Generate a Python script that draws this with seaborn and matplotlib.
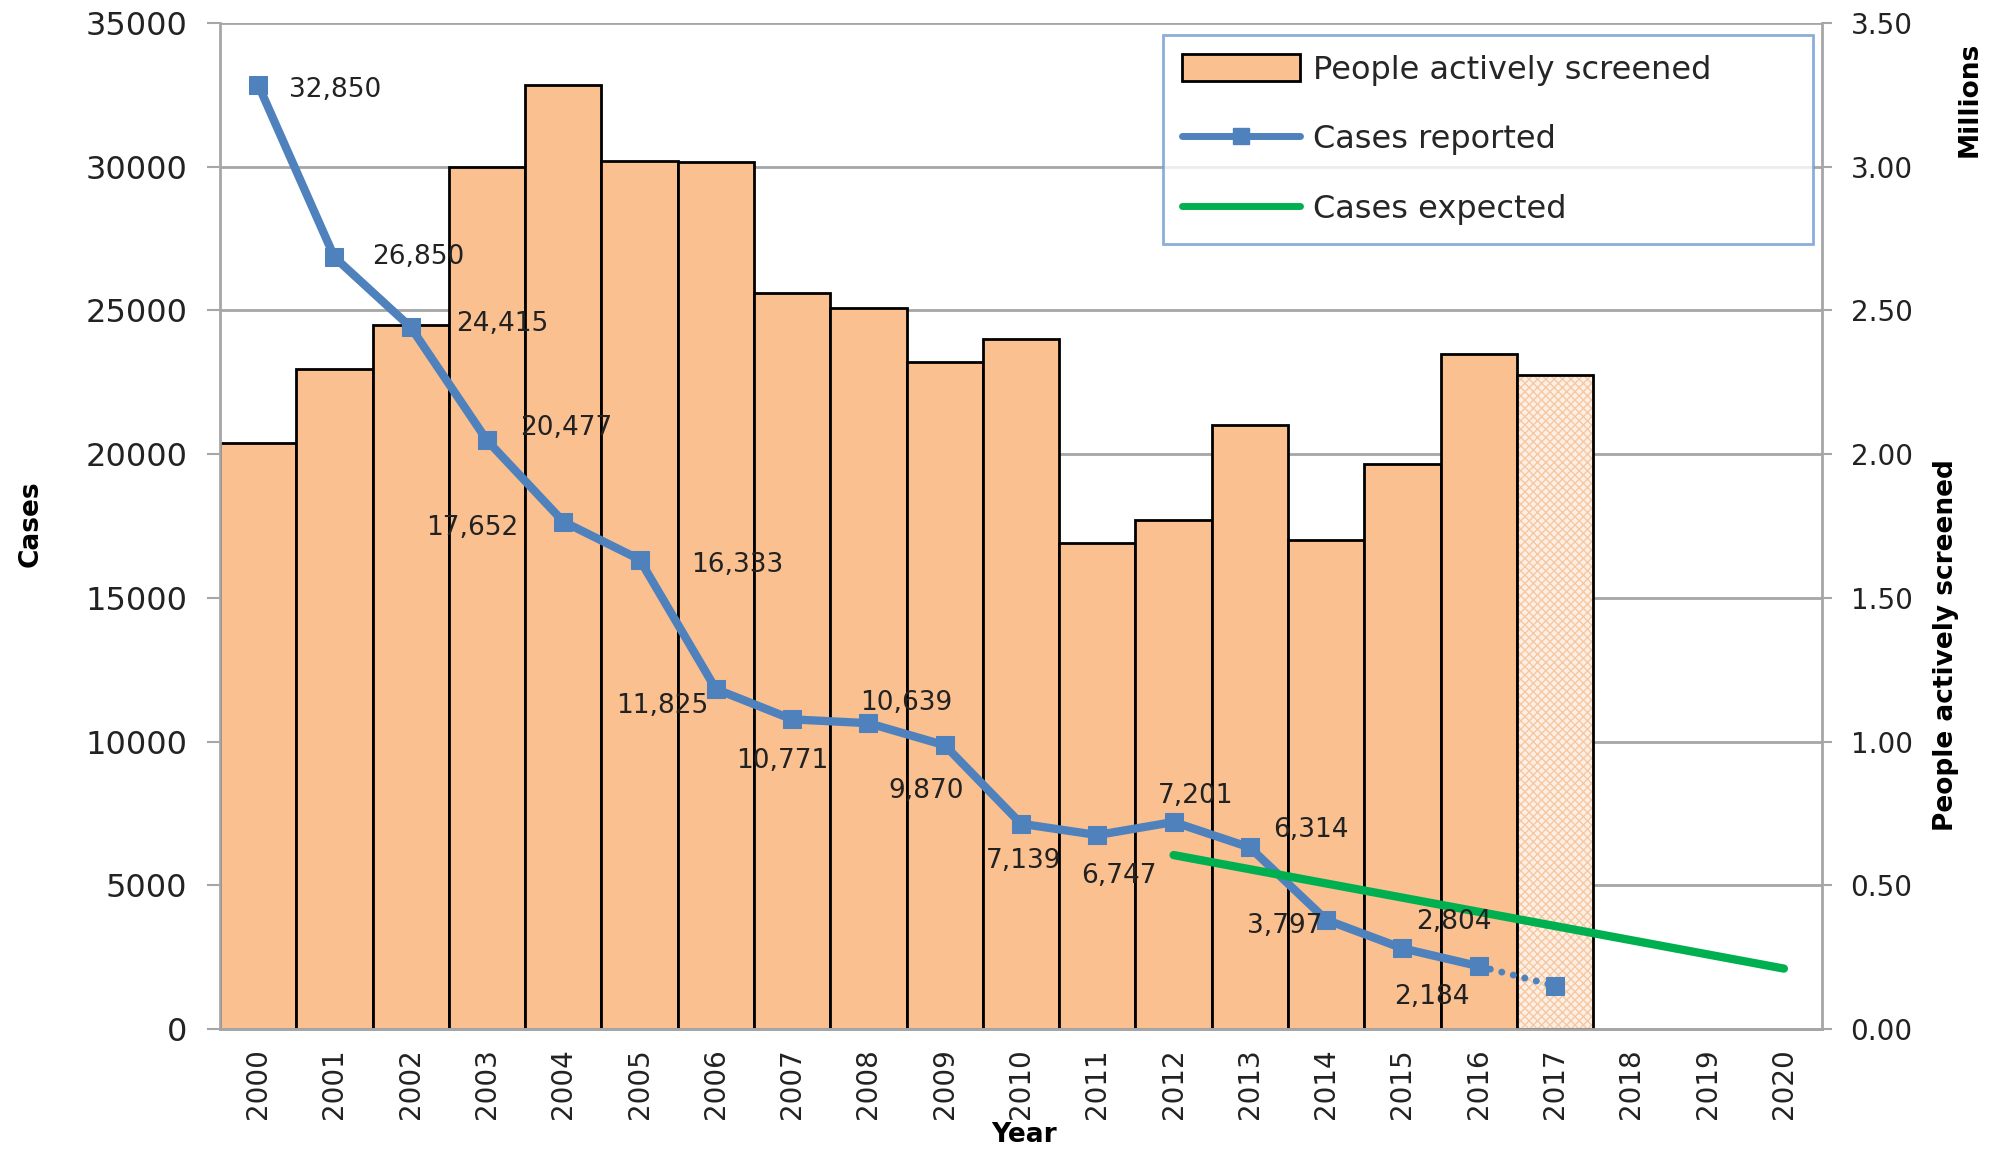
import numpy as np
import matplotlib.pyplot as plt
import seaborn as sns
from matplotlib.patches import Patch, Rectangle
from matplotlib.lines import Line2D
from matplotlib.ticker import FormatStrFormatter, MultipleLocator

sns.set_style("white")
plt.rcParams["font.family"] = ["DejaVu Sans"]

# data
years_all = list(range(2000, 2021))
screen_years = list(range(2000, 2018))
screened_mil = [2.04, 2.295, 2.45, 3.00, 3.285, 3.02, 3.015, 2.56, 2.51, 2.32,
                2.40, 1.69, 1.77, 2.10, 1.70, 1.965, 2.35, 2.275]
report_years = list(range(2000, 2017))
reported = [32850, 26850, 24415, 20477, 17652, 16333, 11825, 10771, 10639, 9870,
            7139, 6747, 7201, 6314, 3797, 2804, 2184]
year_2017 = 2017
reported_2017 = 1500
expected_years = [2012, 2020]
expected = [6050, 2100]

# label offsets (pixels) for each data label
label_dx = [77, 84, 91, 79, -91, 98, -54, -10, 38, -19, 3, 22, 22, 61, -41, 51, -47]
label_dy = [-5, 0, 3, 12, -6, -5, -17, -42, 20, -46, -37, -41, 26, 17, -6, 26, -31]

peach = "#FAC090"
blue = "#4F81BD"
green = "#00B050"
grid_gray = "#A6A6A6"
txt = "#222222"

fig = plt.figure(figsize=(20.04, 11.56), dpi=100)
ax = fig.add_axes([0.1098, 0.1099, 0.7994, 0.8702])
ax2 = ax.twinx()

# bars on the right axis (millions)
sns.barplot(x=screen_years, y=screened_mil, native_scale=True, width=1,
            color=peach, saturation=1, edgecolor="black", linewidth=2,
            errorbar=None, ax=ax2)
p17 = ax2.patches[screen_years.index(2017)]
p17.set_facecolor("#FDEFE4")
p17.set_edgecolor("#F6C8A2")
p17.set_hatch("xxxx")
p17.set_linewidth(0)
ax2.add_patch(Rectangle(p17.get_xy(), p17.get_width(), p17.get_height(),
                        fill=False, edgecolor="black", linewidth=2, zorder=3))

ax2.set_ylim(0, 3.5)
ax2.yaxis.set_major_locator(MultipleLocator(0.5))
ax2.yaxis.set_major_formatter(FormatStrFormatter("%.2f"))
ax2.set_axisbelow(True)
ax2.grid(axis="y", color=grid_gray, linewidth=2)
ax2.grid(axis="x", visible=False)

# lines on the left axis (cases), drawn on top
ax.set_zorder(ax2.get_zorder() + 1)
ax.patch.set_visible(False)
sns.lineplot(x=report_years, y=reported, marker="s", markersize=13,
             markeredgecolor=blue, color=blue, linewidth=6, ax=ax)
sns.lineplot(x=[report_years[-1], year_2017], y=[reported[-1], reported_2017],
             color=blue, linewidth=5, linestyle=(0, (0.01, 1.7)),
             dash_capstyle="round", marker="s", markersize=13, markevery=[1],
             markeredgecolor=blue, ax=ax)
sns.lineplot(x=expected_years, y=expected, color=green, linewidth=6, ax=ax)

for yr, val, dx, dy in zip(report_years, reported, label_dx, label_dy):
    ax.annotate(f"{val:,}", (yr, val), xytext=(dx, dy), textcoords="offset pixels",
                ha="center", va="center", fontsize=19, color=txt)

ax.set_xlim(1999.5, 2020.5)
ax.set_ylim(0, 35000)
ax.yaxis.set_major_locator(MultipleLocator(5000))
ax.set_xticks(years_all)
ax.set_xticklabels([str(y) for y in years_all], rotation=90)
ax.set_xticks(np.arange(1999.5, 2021, 1), minor=True)
ax.tick_params(axis="x", which="major", length=0, labelsize=20, labelcolor=txt, pad=14)
ax.tick_params(axis="x", which="minor", length=10, width=1.5, color=grid_gray)
ax.tick_params(axis="y", which="major", left=True, length=9.5, width=1.5,
               color=grid_gray, labelsize=23, labelcolor=txt, pad=14)
ax2.tick_params(axis="y", right=True, length=7.5, width=1.5, color=grid_gray,
                labelsize=20, labelcolor=txt, pad=13)

for a in (ax, ax2):
    a.spines["top"].set_visible(False)
    for s in ("left", "right", "bottom"):
        a.spines[s].set_color(grid_gray)
        a.spines[s].set_linewidth(2)
ax.spines["right"].set_visible(False)
ax2.spines["left"].set_visible(False)

ax.set_xlabel("Year", fontsize=19, fontweight="bold", color="black")
ax.xaxis.set_label_coords(0.502, -0.092)
ax.set_ylabel("Cases", fontsize=19, fontweight="bold", color="black")
ax.yaxis.set_label_coords(-0.11, 0.502)
ax2.set_ylabel("People actively screened", fontsize=19, fontweight="bold", color="black")
ax2.yaxis.set_label_coords(1.069, 0.382)
fig.text(0.9826, 0.914, "Millions", rotation=90, ha="center", va="center",
         fontsize=19, fontweight="bold", color="black")

handles = [Patch(facecolor=peach, edgecolor="black", linewidth=2),
           Line2D([], [], color=blue, linewidth=5, marker="s", markersize=12),
           Line2D([], [], color=green, linewidth=5)]
labels = ["People actively screened", "Cases reported", "Cases expected"]
leg = ax.legend(handles, labels, loc="upper left",
                bbox_to_anchor=(0.5886, 0.781, 0.4058, 0.207), mode="expand",
                borderaxespad=0, frameon=True, fancybox=False,
                prop={"size": 23}, handlelength=3.7,
                handleheight=0.9, handletextpad=0.4, labelspacing=1.2, borderpad=0.6)
leg.get_frame().set_edgecolor("#6F9BD1")
leg.get_frame().set_linewidth(2)

fig.savefig("out.png", dpi=100, facecolor="white")
